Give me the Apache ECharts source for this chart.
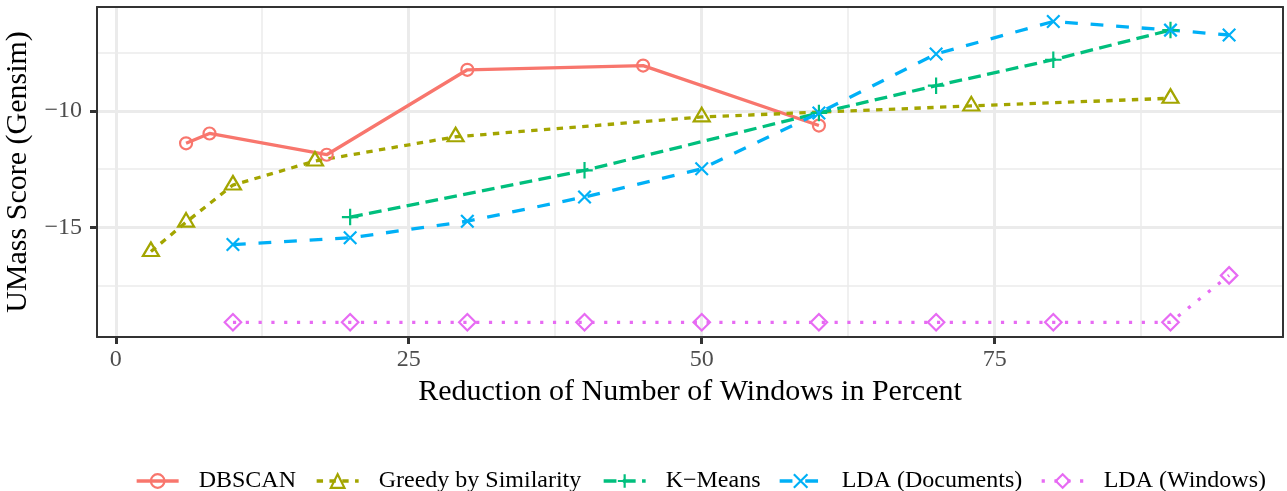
<!DOCTYPE html>
<html>
<head>
<meta charset="utf-8">
<script src="https://cdn.jsdelivr.net/npm/echarts@6/dist/echarts.min.js"></script>
<style>
html,body{margin:0;padding:0;background:#fff;}
#chart{width:1287px;height:491px;}
</style>
</head>
<body>
<div id="chart"></div>
<script>
// ---- data ----
const seriesNames = ['DBSCAN', 'Greedy by Similarity', 'K\u2212Means', 'LDA (Documents)', 'LDA (Windows)'];

const dbscanX = [6, 8, 18, 30, 45, 60];
const dbscanY = [-11.39, -10.97, -11.88, -8.24, -8.06, -10.63];

const greedyX = [3, 6, 10, 17, 29, 50, 73, 90];
const greedyY = [-16.03, -14.77, -13.18, -12.15, -11.11, -10.26, -9.79, -9.46];

const kmeansX = [20, 40, 60, 70, 80, 90];
const kmeansY = [-14.55, -12.55, -10.09, -8.92, -7.81, -6.54];

const ldaDocX = [10, 20, 30, 40, 50, 60, 70, 80, 90, 95];
const ldaDocY = [-15.73, -15.44, -14.73, -13.69, -12.48, -10.09, -7.56, -6.17, -6.54, -6.75];

const ldaWinX = [10, 20, 30, 40, 50, 60, 70, 80, 90, 95];
const ldaWinY = [-19.06, -19.06, -19.06, -19.06, -19.06, -19.06, -19.06, -19.06, -19.06, -17.05];

const xMajorTicks = [0, 25, 50, 75];
const xMinorTicks = [12.5, 37.5, 62.5, 87.5];
const yMajorTicks = [-10, -15];
const yMinorTicks = [-7.5, -12.5, -17.5];

const xRange = [-1.6, 99.6];
const yRange = [-19.69, -5.55];

const colors = ['#F8766D', '#A3A500', '#00BF7D', '#00B0F6', '#E76BF3'];
const legendLefts = [135, 315, 602, 778, 1040];

// ---- build chart ----
const FONT = '"Liberation Serif", "Times New Roman", serif';
function pairs(xs, ys) { return xs.map((x, i) => [x, ys[i]]); }
function fmtMinus(v) { return v < 0 ? '\u2212' + Math.abs(v) : String(v); }

const seriesDefs = [
  { x: dbscanX, y: dbscanY, symbol: 'circle', size: 12, dash: 'solid', offset: [0, 0] },
  { x: greedyX, y: greedyY, symbol: 'triangle', size: [16, 13.5], dash: [6.4, 6.4], offset: [0, -2.3] },
  { x: kmeansX, y: kmeansY, symbol: 'path://M0,-1L0,1M-1,0L1,0', size: 16.5, dash: [12.8, 6.4], offset: [0, 0] },
  { x: ldaDocX, y: ldaDocY, symbol: 'path://M-1,-1L1,1M-1,1L1,-1', size: 12.5, dash: [12.8, 12.8], offset: [0, 0] },
  { x: ldaWinX, y: ldaWinY, symbol: 'diamond', size: 16.5, dash: [3.2, 9.6], offset: [0, 0] }
];

const series = seriesDefs.map((d, i) => ({
  name: seriesNames[i],
  type: 'line',
  data: pairs(d.x, d.y),
  symbol: d.symbol,
  symbolSize: d.size,
  symbolOffset: d.offset,
  showSymbol: true,
  showAllSymbol: true,
  lineStyle: { color: colors[i], width: 3.3, type: d.dash, cap: 'butt' },
  itemStyle: { color: 'rgba(0,0,0,0)', borderColor: colors[i], borderWidth: 2.2 },
  emphasis: { disabled: true },
  z: 3
}));

const axisLineStyle = { show: true, onZero: false, lineStyle: { color: '#333333', width: 2 } };

const legends = seriesNames.map((n, i) => ({
  show: true,
  left: legendLefts[i], top: 469,
  padding: 0,
  orient: 'horizontal',
  itemWidth: 42, itemHeight: 17, itemGap: 0,
  selectedMode: false,
  textStyle: { color: '#000000', fontFamily: FONT, fontSize: 24, padding: [0, 0, 0, 15] },
  lineStyle: { width: 3.3 },
  itemStyle: { borderWidth: 2.2 },
  data: [n]
}));

const option = {
  animation: false,
  backgroundColor: '#ffffff',
  color: colors,
  grid: { left: 97, right: 4, top: 7, bottom: 154, containLabel: false, outerBoundsMode: 'none', show: false },
  xAxis: [
    {
      type: 'value', position: 'bottom', min: xRange[0], max: xRange[1],
      axisLine: axisLineStyle,
      axisTick: { show: true, customValues: xMajorTicks, length: 7, lineStyle: { color: '#333333', width: 3 } },
      axisLabel: { customValues: xMajorTicks, color: '#4D4D4D', fontFamily: FONT, fontSize: 24, margin: 11, formatter: fmtMinus },
      splitLine: { show: true, lineStyle: { color: '#EBEBEB', width: 3 } },
      name: 'Reduction of Number of Windows in Percent',
      nameLocation: 'middle', nameGap: 38,
      nameTextStyle: { color: '#000000', fontFamily: FONT, fontSize: 30 }
    },
    {
      type: 'value', position: 'top', min: xRange[0], max: xRange[1],
      axisLine: axisLineStyle,
      axisTick: { show: false, customValues: xMinorTicks },
      axisLabel: { show: false, customValues: xMinorTicks },
      splitLine: { show: true, lineStyle: { color: '#EBEBEB', width: 1.5 } }
    }
  ],
  yAxis: [
    {
      type: 'value', position: 'left', min: yRange[0], max: yRange[1],
      axisLine: axisLineStyle,
      axisTick: { show: true, customValues: yMajorTicks, length: 7, lineStyle: { color: '#333333', width: 3 } },
      axisLabel: { customValues: yMajorTicks, color: '#4D4D4D', fontFamily: FONT, fontSize: 24, margin: 15, formatter: fmtMinus },
      splitLine: { show: true, lineStyle: { color: '#EBEBEB', width: 3 } },
      name: 'UMass Score (Gensim)',
      nameLocation: 'middle', nameGap: 53,
      nameTextStyle: { color: '#000000', fontFamily: FONT, fontSize: 30 }
    },
    {
      type: 'value', position: 'right', min: yRange[0], max: yRange[1],
      axisLine: axisLineStyle,
      axisTick: { show: false, customValues: yMinorTicks },
      axisLabel: { show: false, customValues: yMinorTicks },
      splitLine: { show: true, lineStyle: { color: '#EBEBEB', width: 1.5 } }
    }
  ],
  legend: legends,
  series: series
};

const chart = echarts.init(document.getElementById('chart'), null, { renderer: 'canvas' });
chart.setOption(option);
</script>
</body>
</html>
